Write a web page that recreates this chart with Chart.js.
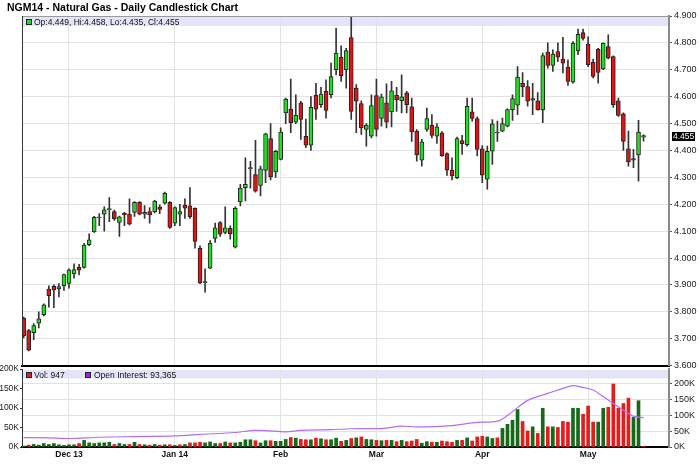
<!DOCTYPE html>
<html>
<head>
<meta charset="utf-8">
<script src="https://cdn.jsdelivr.net/npm/chart.js@4.4.0/dist/chart.umd.min.js"></script>
<style>
  body { margin: 0; background: #fff; }
  #wrap { position: relative; width: 700px; height: 464px; overflow: hidden; }
  #title { position: absolute; left: 7px; top: 1px; font: bold 10.5px 'Liberation Sans', Arial, sans-serif; color: #000; }
  canvas { position: absolute; left: 0; }
  #priceChart { top: 0; }
  #volChart { top: 357px; }
</style>
</head>
<body>
<div id="wrap">
  <canvas id="priceChart" width="700" height="373"></canvas>
  <canvas id="volChart" width="700" height="107"></canvas>
  <div id="title">NGM14 - Natural Gas - Daily Candlestick Chart</div>
</div>
<script>
// daily bars, Nov 18 2013 .. May 16 2014 (trading day index 0..123)
const opens = [3.777,3.730,3.722,3.758,3.789,3.885,3.895,3.885,3.897,3.906,3.941,3.965,3.965,4.050,4.097,4.149,4.163,4.180,4.173,4.132,
  4.167,4.163,4.170,4.207,4.163,4.173,4.171,4.190,4.204,4.207,4.130,4.163,4.197,4.194,4.185,4.036,3.908,3.962,4.073,4.132,
  4.095,4.110,4.040,4.209,4.262,4.332,4.310,4.270,4.326,4.444,4.320,4.367,4.540,4.554,4.505,4.577,4.453,4.420,4.606,4.570,
  4.620,4.607,4.700,4.747,4.700,4.820,4.632,4.574,4.478,4.453,4.604,4.519,4.577,4.543,4.605,4.585,4.614,4.562,4.472,4.364,
  4.478,4.493,4.453,4.466,4.388,4.327,4.299,4.437,4.422,4.544,4.519,4.406,4.293,4.397,4.465,4.472,4.490,4.552,4.568,4.650,
  4.638,4.593,4.585,4.552,4.766,4.716,4.768,4.740,4.710,4.654,4.770,4.838,4.796,4.728,4.777,4.703,4.786,4.749,4.585,4.536,
  4.406,4.370,4.383,4.449];
const highs = [3.780,3.735,3.756,3.800,3.830,3.897,3.900,3.905,3.940,3.960,3.978,3.977,4.055,4.090,4.155,4.165,4.190,4.225,4.178,4.156,
  4.170,4.220,4.210,4.210,4.195,4.188,4.215,4.198,4.245,4.210,4.190,4.200,4.220,4.262,4.187,4.045,3.960,4.065,4.130,4.136,
  4.190,4.120,4.190,4.274,4.373,4.360,4.438,4.342,4.465,4.500,4.400,4.484,4.595,4.665,4.607,4.583,4.517,4.600,4.650,4.635,
  4.663,4.725,4.854,4.789,4.780,4.895,4.645,4.585,4.500,4.607,4.665,4.610,4.648,4.657,4.635,4.681,4.620,4.595,4.478,4.441,
  4.558,4.533,4.500,4.470,4.391,4.373,4.450,4.456,4.595,4.595,4.525,4.418,4.416,4.515,4.509,4.520,4.555,4.607,4.712,4.690,
  4.660,4.650,4.615,4.762,4.800,4.774,4.800,4.821,4.737,4.805,4.851,4.851,4.823,4.740,4.780,4.800,4.830,4.752,4.595,4.540,
  4.472,4.404,4.512,4.458];
const lows = [3.703,3.655,3.696,3.740,3.785,3.817,3.815,3.855,3.880,3.888,3.925,3.937,3.962,4.046,4.095,4.120,4.100,4.135,4.140,4.080,
  4.120,4.123,4.155,4.160,4.147,4.130,4.168,4.165,4.200,4.110,4.120,4.120,4.147,4.147,4.037,3.905,3.873,3.960,4.058,4.080,
  4.090,4.070,4.038,4.194,4.212,4.260,4.245,4.231,4.280,4.290,4.300,4.365,4.500,4.466,4.500,4.441,4.410,4.400,4.515,4.560,
  4.520,4.595,4.681,4.657,4.632,4.515,4.466,4.460,4.416,4.447,4.453,4.490,4.484,4.488,4.545,4.540,4.540,4.434,4.360,4.342,
  4.471,4.447,4.426,4.378,4.307,4.290,4.295,4.385,4.416,4.509,4.380,4.280,4.256,4.348,4.434,4.470,4.488,4.512,4.533,4.600,
  4.565,4.533,4.550,4.503,4.706,4.694,4.730,4.688,4.642,4.650,4.756,4.810,4.712,4.670,4.650,4.700,4.740,4.560,4.527,4.400,
  4.342,4.336,4.286,4.435];
const closes = [3.710,3.657,3.749,3.774,3.826,3.860,3.881,3.894,3.938,3.956,3.957,3.955,4.048,4.068,4.151,4.151,4.179,4.183,4.145,4.153,
  4.160,4.126,4.207,4.163,4.170,4.160,4.212,4.181,4.241,4.114,4.188,4.173,4.185,4.154,4.062,3.907,3.912,4.056,4.112,4.089,
  4.112,4.091,4.185,4.260,4.274,4.336,4.249,4.332,4.462,4.302,4.397,4.468,4.591,4.503,4.531,4.515,4.420,4.560,4.554,4.610,
  4.549,4.675,4.762,4.678,4.771,4.545,4.583,4.484,4.494,4.567,4.478,4.599,4.505,4.622,4.589,4.599,4.570,4.469,4.383,4.432,
  4.519,4.456,4.488,4.381,4.327,4.305,4.444,4.425,4.564,4.519,4.404,4.308,4.397,4.499,4.468,4.500,4.552,4.593,4.673,4.636,
  4.583,4.587,4.552,4.753,4.716,4.758,4.747,4.725,4.657,4.799,4.832,4.817,4.719,4.675,4.690,4.799,4.743,4.570,4.530,4.434,
  4.357,4.364,4.468,4.455];
// volume and open interest, in thousands of contracts
const volumes = [3,6,8,6,11,8,11,7,5,7,7,11,21,13,11,13,13,15,8,11,
  8,8,15,8,7,6,8,6,7,7,5,7,8,13,13,15,13,16,11,11,
  16,13,13,15,23,23,20,13,20,20,18,18,24,30,28,24,23,23,28,26,
  23,23,28,18,21,27,29,32,24,23,21,20,21,21,17,21,17,19,24,12,
  17,15,15,19,17,15,21,21,29,19,32,34,32,27,29,59,72,85,119,81,
  51,64,43,123,64,64,62,81,79,123,123,104,130,79,79,123,126,200,123,138,
  155,94,147,0.947];
const oiDays = [0,5,9,15,22,30,35,42,46,48,52,55,61,65,71,75,78,85,90,94,96,98,100,103,104,107,109,111,113,115,117,119,121,123];
const oiValues = [30,29,27,31,33,35,40,46,53,52,48,53,55,58,58.5,66,64,68,78,82,100,125,148,165,170,186,195,189,181,160,138,117,97,93.365];
// month gridlines (trading day index) and their labels
const monthDays = [9,30,51,70,91,112];
const monthLabels = ['Dec 13','Jan 14','Feb','Mar','Apr','May'];
const priceTicks = [3.6,3.7,3.8,3.9,4.0,4.1,4.2,4.3,4.4,4.5,4.6,4.7,4.8,4.9];
const volTicks = [0,50,100,150,200];

const FONT = "'Liberation Sans', Arial, sans-serif";
Chart.defaults.font.family = FONT;
Chart.defaults.font.size = 9;
Chart.defaults.color = '#222';

const xMin = -0.325, xMax = 128.05;
const GREEN = '#1fe01f', RED = '#e01414';
const GRID = '#e2e2e2';
const last = closes.length - 1;

const candleColors = closes.map((c, i) => (c >= opens[i] ? GREEN : RED));
const volColors = closes.map((c, i) => (i === 0 || c >= closes[i - 1] ? '#17691a' : '#e31c1c'));

function monthTicks(scale) {
  scale.ticks = monthDays.map(v => ({ value: v }));
}

const priceDecor = {
  id: 'priceDecor',
  beforeDraw(chart) {
    const { ctx, chartArea: a } = chart;
    ctx.save();
    ctx.fillStyle = '#e3e3fa';
    ctx.fillRect(a.left, a.top + 1, a.right - a.left, 9);
    ctx.restore();
  },
  afterDraw(chart) {
    const { ctx, chartArea: a } = chart;
    ctx.save();
    // frame
    ctx.strokeStyle = '#999';
    ctx.lineWidth = 1;
    ctx.beginPath();
    ctx.moveTo(a.left, a.top + 0.5);
    ctx.lineTo(a.right, a.top + 0.5);
    ctx.stroke();
    ctx.strokeStyle = '#333';
    ctx.beginPath();
    ctx.moveTo(a.left + 0.5, a.top);
    ctx.lineTo(a.left + 0.5, a.bottom);
    ctx.stroke();
    // legend text
    ctx.fillStyle = GREEN;
    ctx.strokeStyle = '#222';
    ctx.fillRect(a.left + 4, a.top + 3, 5, 5);
    ctx.strokeRect(a.left + 4.5, a.top + 3.5, 5, 5);
    ctx.fillStyle = '#111';
    ctx.font = '8.5px ' + FONT;
    ctx.textBaseline = 'alphabetic';
    const txt = 'Op:' + opens[last].toFixed(3) + ', Hi:' + highs[last].toFixed(3) +
      ', Lo:' + lows[last].toFixed(3) + ', Cl:' + closes[last].toFixed(3);
    ctx.fillText(txt, a.left + 12, a.top + 9);
    // last price marker
    const y = chart.scales.y.getPixelForValue(closes[last]);
    ctx.fillStyle = '#000';
    ctx.fillRect(a.right + 3, Math.round(y) - 4, 23, 9);
    ctx.fillStyle = '#fff';
    ctx.textBaseline = 'middle';
    ctx.fillText(closes[last].toFixed(3), a.right + 4, Math.round(y) + 0.5);
    ctx.restore();
  }
};

new Chart(document.getElementById('priceChart'), {
  type: 'bar',
  data: {
    datasets: [
      {
        label: 'body',
        data: closes.map((c, i) => ({ x: i, y: [opens[i], c] })),
        backgroundColor: candleColors,
        borderColor: '#222',
        borderWidth: 1,
        borderSkipped: false,
        barThickness: 4,
        minBarLength: 1,
        grouped: false,
        order: 0
      },
      {
        label: 'wick',
        data: highs.map((h, i) => ({ x: i, y: [lows[i], h] })),
        backgroundColor: '#333',
        borderWidth: 0,
        barThickness: 1,
        grouped: false,
        order: 1
      }
    ]
  },
  options: {
    responsive: false,
    animation: false,
    layout: { padding: { left: 22, top: 16, right: 0, bottom: 6 } },
    plugins: { legend: { display: false }, tooltip: { enabled: false } },
    scales: {
      x: {
        type: 'linear',
        min: xMin,
        max: xMax,
        offset: false,
        afterBuildTicks: monthTicks,
        afterFit: s => { s.height = 0; },
        ticks: { display: false },
        grid: { color: GRID, drawTicks: false, offset: false },
        border: { color: '#000', width: 2 }
      },
      y: {
        position: 'right',
        min: 3.6,
        max: 4.9,
        afterBuildTicks: s => { s.ticks = priceTicks.map(v => ({ value: v })); },
        afterFit: s => { s.width = 31; },
        ticks: { callback: v => v.toFixed(3), padding: 2, font: { size: 9 }, color: '#222' },
        grid: { color: GRID, tickLength: 3, tickColor: '#555' },
        border: { color: '#8a8a8a', width: 2 }
      }
    }
  },
  plugins: [priceDecor]
});

const volDecor = {
  id: 'volDecor',
  beforeDraw(chart) {
    const { ctx, chartArea: a } = chart;
    ctx.save();
    ctx.fillStyle = '#fff';
    ctx.fillRect(a.left + 1, a.top - 1, a.right - a.left - 2, 3);
    ctx.fillStyle = '#e3e3fa';
    ctx.fillRect(a.left, a.top + 1, a.right - a.left, 8.5);
    ctx.restore();
  },
  afterDraw(chart) {
    const { ctx, chartArea: a } = chart;
    ctx.save();
    ctx.font = '8.5px ' + FONT;
    ctx.strokeStyle = '#222';
    ctx.lineWidth = 1;
    ctx.fillStyle = '#e31c1c';
    ctx.fillRect(a.left + 4, a.top + 3, 5, 5);
    ctx.strokeRect(a.left + 4.5, a.top + 3.5, 5, 5);
    ctx.fillStyle = '#111';
    ctx.fillText('Vol: ' + Math.round(volumes[last] * 1000).toLocaleString('en-US'), a.left + 12, a.top + 9);
    ctx.fillStyle = '#9b1fe0';
    ctx.fillRect(a.left + 63, a.top + 3, 5, 5);
    ctx.strokeRect(a.left + 63.5, a.top + 3.5, 5, 5);
    ctx.fillStyle = '#111';
    ctx.fillText('Open Interest: ' + Math.round(oiValues[oiValues.length - 1] * 1000).toLocaleString('en-US'),
      a.left + 72, a.top + 9);
    ctx.restore();
  }
};

new Chart(document.getElementById('volChart'), {
  type: 'bar',
  data: {
    datasets: [
      {
        type: 'line',
        label: 'Open Interest',
        data: oiDays.map((d, i) => ({ x: d, y: oiValues[i] })),
        yAxisID: 'yR',
        borderColor: '#b46cf2',
        borderWidth: 1.2,
        pointRadius: 0,
        cubicInterpolationMode: 'monotone',
        order: 0
      },
      {
        label: 'Vol',
        data: volumes.map((v, i) => ({ x: i, y: v })),
        yAxisID: 'yR',
        backgroundColor: volColors,
        borderWidth: 0,
        barThickness: 3,
        grouped: false,
        order: 1
      }
    ]
  },
  options: {
    responsive: false,
    animation: false,
    layout: { padding: { left: 0, top: 12, right: 0, bottom: 0 } },
    plugins: { legend: { display: false }, tooltip: { enabled: false } },
    scales: {
      x: {
        type: 'linear',
        min: xMin,
        max: xMax,
        offset: false,
        afterBuildTicks: monthTicks,
        afterFit: s => { s.height = 17; },
        ticks: {
          callback: (v, i) => monthLabels[i],
          font: { size: 8.5, weight: 'bold' },
          color: '#111',
          padding: 3,
          maxRotation: 0,
          autoSkip: false
        },
        grid: { color: GRID, drawTicks: false, offset: false },
        border: { color: '#000', width: 2 }
      },
      yL: {
        position: 'left',
        min: 0,
        max: 200,
        afterBuildTicks: s => { s.ticks = volTicks.map(v => ({ value: v })); },
        afterFit: s => { s.width = 22; },
        ticks: { callback: v => v + 'K', padding: 1, font: { size: 8.5 }, color: '#222' },
        grid: { drawOnChartArea: false, tickLength: 2, tickColor: '#333' },
        border: { color: '#333', width: 1 }
      },
      yR: {
        position: 'right',
        min: 0,
        max: 247.6,
        afterBuildTicks: s => { s.ticks = volTicks.map(v => ({ value: v })); },
        afterFit: s => { s.width = 31; },
        ticks: { callback: v => v + 'K', padding: 2, font: { size: 9 }, color: '#222' },
        grid: { color: GRID, tickLength: 3, tickColor: '#555' },
        border: { color: '#8a8a8a', width: 2 }
      }
    }
  },
  plugins: [volDecor]
});
</script>
</body>
</html>
